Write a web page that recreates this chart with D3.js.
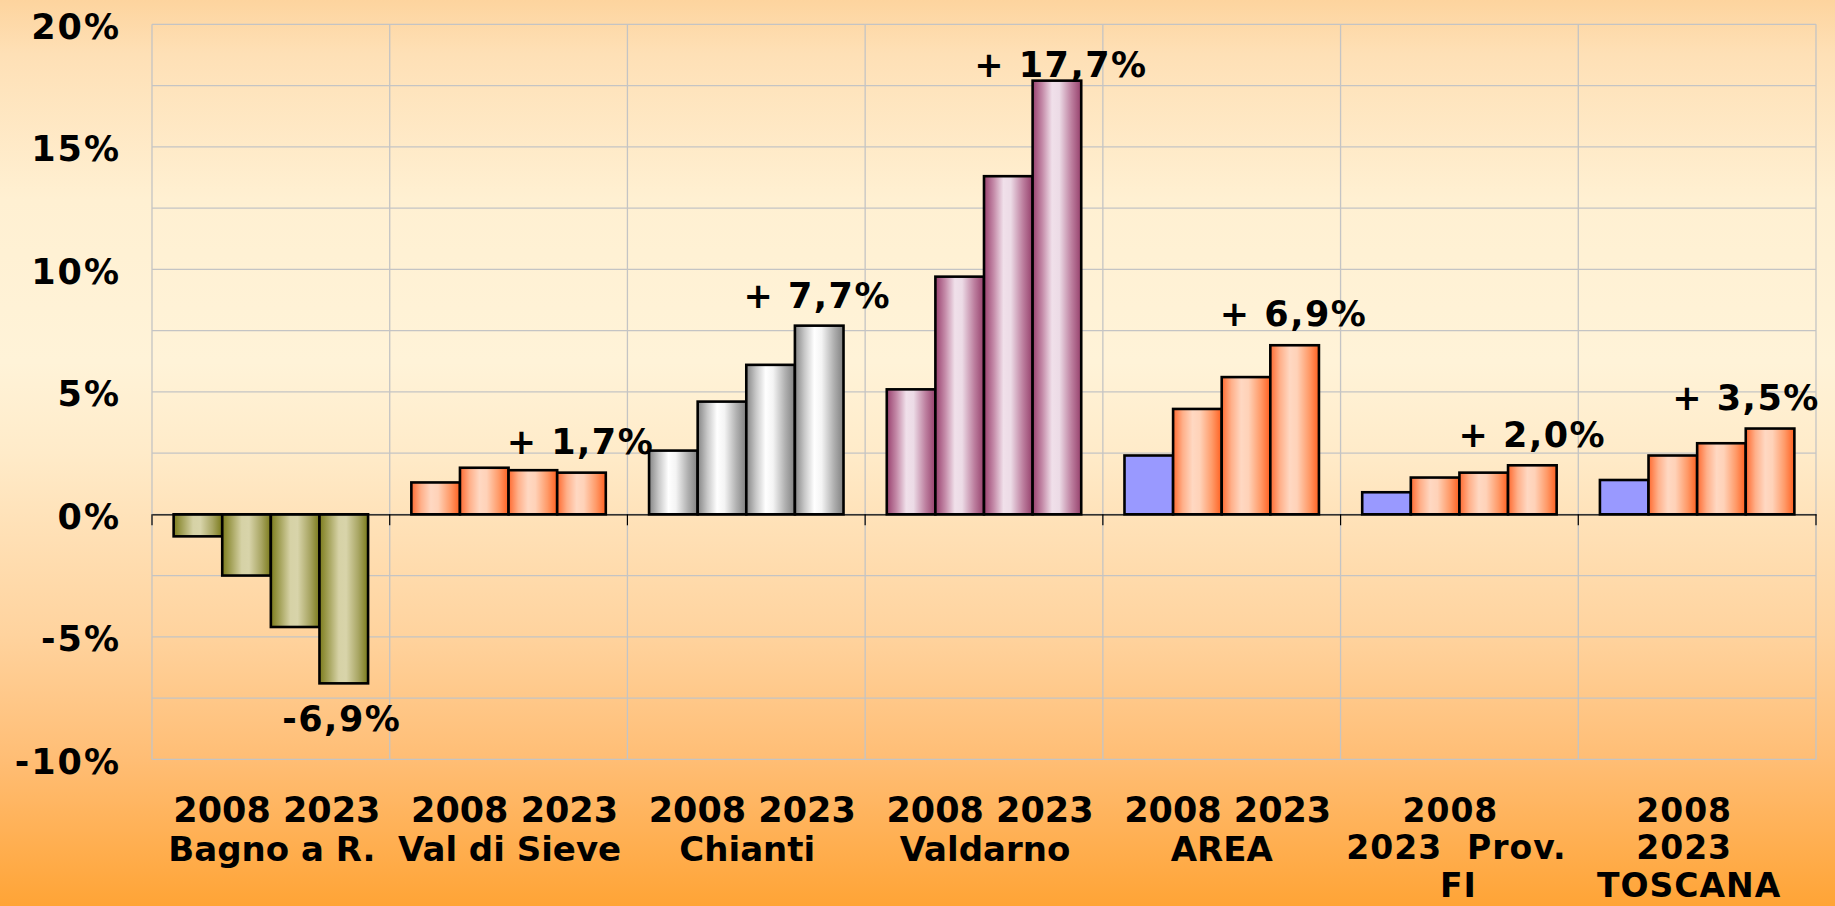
<!DOCTYPE html>
<html>
<head>
<meta charset="utf-8">
<script src="https://cdn.jsdelivr.net/npm/d3@7"></script>
<style>
  html, body { margin: 0; padding: 0; }
  body { width: 1835px; height: 906px; overflow: hidden; }
  text { font-family: "DejaVu Sans", Verdana, sans-serif; font-weight: bold; fill: #000; white-space: pre; }
</style>
</head>
<body>
<svg id="chart" width="1835" height="906"></svg>
<script>
// ---- data ----
const categories = ["Bagno a R.", "Val di Sieve", "Chianti", "Valdarno", "AREA", "Prov. FI", "TOSCANA"];
const categoryLines = [
  ["2008 2023", "Bagno a R."],
  ["2008 2023", "Val di Sieve"],
  ["2008 2023", "Chianti"],
  ["2008 2023", "Valdarno"],
  ["2008 2023", "AREA"],
  ["2008", "2023  Prov.", "FI"],
  ["2008", "2023", "TOSCANA"]
];
const series1 = [-0.9, 1.3, 2.6, 5.1, 2.4, 0.9, 1.4];
const series2 = [-2.5, 1.9, 4.6, 9.7, 4.3, 1.5, 2.4];
const series3 = [-4.6, 1.8, 6.1, 13.8, 5.6, 1.7, 2.9];
const series4 = [-6.9, 1.7, 7.7, 17.7, 6.9, 2.0, 3.5];
const valueLabels = ["-6,9%", "+ 1,7%", "+ 7,7%", "+ 17,7%", "+ 6,9%", "+ 2,0%", "+ 3,5%"];
const yTicks = [-10, -5, 0, 5, 10, 15, 20];
const yTickLabels = ["-10%", "-5%", "0%", "5%", "10%", "15%", "20%"];
const yGrid = [-10, -7.5, -5, -2.5, 0, 2.5, 5, 7.5, 10, 12.5, 15, 17.5, 20];

// ---- styles / layout ----
const W = 1835, H = 906;
const plot = { left: 152, right: 1816, top: 24.3, bottom: 759.3 };
const fontSize = 35;
const catStyle = ["olive", "orange", "gray", "plum", "orange", "orange", "orange"];
const firstBarFlat = [false, false, false, false, true, true, true];
const labelDx = [[6, 1], [6, 1], [6, 1], [6, 1], [6, 0], [-9, -3, -1], [-13, -13, -8]];
const labelFont2 = [35, 34];            // two-line labels
const labelBaselines2 = [821.5, 861];
const labelFont3 = [33, 33, 33];        // three-line labels
const labelBaselines3 = [821.5, 859, 897];
const valueLabelDx = [-2, -1, -2, 4, -1, 0, -24];
const valueLabelDy = [48, -19, -18, -3.5, -19, -18, -19];

const gradients = {
  olive:  ["#7c7c1c", "#a8a660", "#d6d2a6", "#d8d4aa", "#a9a664", "#7a7a1a"],
  orange: ["#ff6a30", "#ffb08a", "#ffd8c2", "#ffd2b8", "#ff9a68", "#ff6020"],
  gray:   ["#858585", "#c8c8c8", "#ffffff", "#f4f4f4", "#b0b0b0", "#808080"],
  plum:   ["#98406e", "#c48aa8", "#f0e0ea", "#ecdbe6", "#bd7f9f", "#96406c"]
};
const gradOffsets = [0, 0.2, 0.4, 0.55, 0.8, 1];

const svg = d3.select("#chart");
const defs = svg.append("defs");

const bg = defs.append("linearGradient").attr("id", "bg").attr("x1", 0).attr("y1", 0).attr("x2", 0).attr("y2", 1);
[[0, "#fdd49e"], [0.06, "#fee0b6"], [0.22, "#fff0d2"], [0.4, "#fff3d8"], [0.5, "#ffebc9"],
 [0.58, "#ffe1b7"], [0.7, "#ffd39e"], [0.84, "#ffbd74"], [1, "#ffa436"]].forEach(([o, c]) =>
  bg.append("stop").attr("offset", o).attr("stop-color", c));
svg.append("rect").attr("width", W).attr("height", H).attr("fill", "url(#bg)");

Object.entries(gradients).forEach(([name, cols]) => {
  const g = defs.append("linearGradient").attr("id", "g-" + name)
    .attr("x1", 0).attr("y1", 0).attr("x2", 1).attr("y2", 0);
  cols.forEach((c, i) => g.append("stop").attr("offset", gradOffsets[i]).attr("stop-color", c));
});

// scales
const x0 = d3.scaleBand().domain(categories).range([plot.left, plot.right]).paddingInner(0).paddingOuter(0);
const gap = x0.bandwidth() * 0.182;
const x1 = d3.scaleBand().domain([0, 1, 2, 3]).range([gap / 2, x0.bandwidth() - gap / 2]).padding(0);
const y = d3.scaleLinear().domain([-10, 20]).range([plot.bottom, plot.top]);

// grid
const grid = svg.append("g");
grid.selectAll("line.h").data(yGrid).join("line")
  .attr("x1", plot.left).attr("x2", plot.right)
  .attr("y1", d => y(d)).attr("y2", d => y(d))
  .attr("stroke", "#c4c4c4").attr("stroke-width", 1.3);
const vBounds = categories.map(c => x0(c)).concat([plot.right]);
grid.selectAll("line.v").data(vBounds).join("line")
  .attr("x1", d => d).attr("x2", d => d)
  .attr("y1", plot.top).attr("y2", plot.bottom)
  .attr("stroke", "#c4c4c4").attr("stroke-width", 1.3);

// y axis labels
svg.append("g").selectAll("text").data(yTicks).join("text")
  .attr("x", 121).attr("y", d => y(d) + 14.5)
  .attr("text-anchor", "end").attr("font-size", fontSize)
  .attr("letter-spacing", 2)
  .text((d, i) => yTickLabels[i]);

// bars
const seriesAll = [series1, series2, series3, series4];
const bars = [];
categories.forEach((c, ci) => {
  seriesAll.forEach((s, si) => bars.push({ c, ci, si, v: s[ci] }));
});
svg.append("g").selectAll("rect").data(bars).join("rect")
  .attr("x", d => x0(d.c) + x1(d.si))
  .attr("width", x1.bandwidth())
  .attr("y", d => y(Math.max(0, d.v)))
  .attr("height", d => Math.abs(y(d.v) - y(0)))
  .attr("fill", d => (d.si === 0 && firstBarFlat[d.ci]) ? "#9999ff" : "url(#g-" + catStyle[d.ci] + ")")
  .attr("stroke", "#000").attr("stroke-width", 2.6);

// zero axis + ticks
const axis = svg.append("g").attr("transform", `translate(0,${y(0)})`)
  .call(d3.axisBottom(x0).tickValues([]).tickSize(0).tickSizeOuter(0));
axis.select(".domain").attr("stroke", "#000").attr("stroke-width", 1.2);
axis.selectAll("line.tk").data(vBounds).join("line").attr("class", "tk")
  .attr("x1", d => d).attr("x2", d => d).attr("y1", 0).attr("y2", 11)
  .attr("stroke", "#000").attr("stroke-width", 1.2);

// value labels
svg.append("g").selectAll("text").data(valueLabels).join("text")
  .attr("x", (d, i) => x0(categories[i]) + x1(3) + x1.bandwidth() / 2 + valueLabelDx[i])
  .attr("y", (d, i) => y(series4[i]) + valueLabelDy[i])
  .attr("text-anchor", "middle").attr("font-size", fontSize)
  .attr("letter-spacing", 1.5)
  .text(d => d);

// category labels
const catG = svg.append("g");
categoryLines.forEach((lines, ci) => {
  const cx = x0(categories[ci]) + x0.bandwidth() / 2;
  const three = lines.length === 3;
  lines.forEach((ln, li) => {
    catG.append("text")
      .attr("x", cx + labelDx[ci][li])
      .attr("y", three ? labelBaselines3[li] : labelBaselines2[li])
      .attr("text-anchor", "middle")
      .attr("font-size", three ? labelFont3[li] : labelFont2[li])
      .attr("letter-spacing", three ? 1 : 0)
      .text(ln);
  });
});
</script>
</body>
</html>
